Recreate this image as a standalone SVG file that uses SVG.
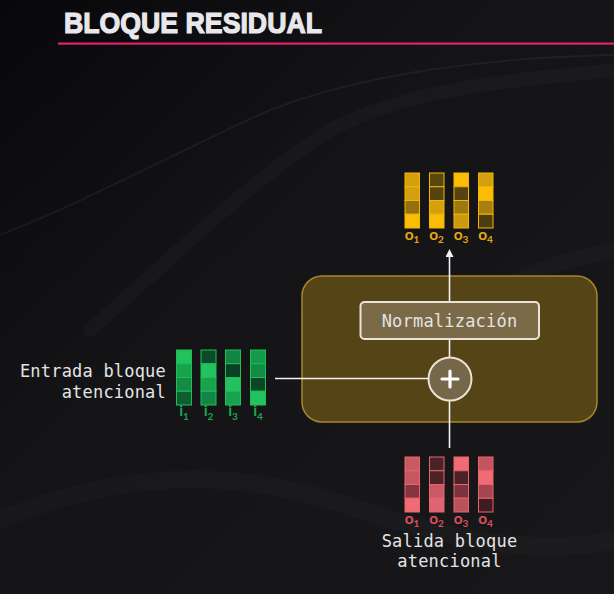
<svg xmlns="http://www.w3.org/2000/svg" width="614" height="594" viewBox="0 0 614 594">
<defs>
<linearGradient id="bg" x1="0" y1="0" x2="1" y2="1">
<stop offset="0" stop-color="#08080b"/>
<stop offset="0.4" stop-color="#141417"/>
<stop offset="1" stop-color="#18181b"/>
</linearGradient>
<marker id="arr" viewBox="0 0 6 6" refX="3" refY="3" markerWidth="5" markerHeight="5" orient="auto">
<path d="M0,0 L6,3 L0,6 z" fill="#f2f2f2"/>
</marker>
<style>
.lbl{font-family:"DejaVu Sans Mono","Liberation Mono",monospace;font-size:17px;fill:#e4e4e4;letter-spacing:0.2px}
.sub{font-family:"Lato","Liberation Sans",sans-serif;font-weight:bold}
.y rect{stroke:#f2b705;stroke-width:1}
.g rect{stroke:#1fbf58;stroke-width:1}
.r rect{stroke:#e9646d;stroke-width:1}
.wave{fill:none;stroke:#ffffff;stroke-linecap:round}
.conn{stroke:#f2f2f2;stroke-width:1.6;fill:none}
</style>
</defs>
<rect width="614" height="594" fill="url(#bg)"/>
<g id="background-waves">
<path class="wave" stroke-opacity="0.05" stroke-width="2" d="M0,235 C90,200 180,150 270,110 C360,75 480,58 614,55"/>
<path class="wave" stroke-opacity="0.025" stroke-width="14" d="M90,330 C170,260 250,180 330,130 C420,85 520,80 614,70"/>
<path class="wave" stroke-opacity="0.02" stroke-width="16" d="M470,310 C520,270 570,260 614,250"/>
<path class="wave" stroke-opacity="0.02" stroke-width="18" d="M0,520 C120,470 230,470 330,500 C420,530 520,560 614,540"/>
</g>
<g id="title">
<text x="64" y="33" font-family="Liberation Sans,Arial,sans-serif" font-weight="bold" font-size="30" fill="#e8e8ec" stroke="#e8e8ec" stroke-width="1.2" textLength="258" lengthAdjust="spacingAndGlyphs">BLOQUE RESIDUAL</text>
<rect x="58" y="42.5" width="556" height="2.2" fill="#e0226a"/>
</g>
<g id="residual-block">
<rect x="302" y="276" width="295" height="146" rx="20" fill="#574617" fill-opacity="0.97" stroke="#a8852c" stroke-width="1.5"/>
</g>
<g id="connectors">
<line class="conn" x1="449.5" y1="302" x2="449.5" y2="253" marker-end="url(#arr)"/>
<line class="conn" x1="449.5" y1="357" x2="449.5" y2="339"/>
<line class="conn" x1="449.5" y1="448" x2="449.5" y2="401"/>
<line class="conn" x1="275" y1="378.5" x2="428" y2="378.5"/>
</g>
<g id="normalizacion">
<rect x="360.5" y="302" width="178.5" height="37" rx="4" fill="#7a6a48" stroke="#ebe4d4" stroke-width="2"/>
<text x="449.5" y="326.5" text-anchor="middle" class="lbl" font-size="17" fill="#f4f0e8">Normalización</text>
</g>
<g id="suma">
<circle cx="450" cy="379" r="21.5" fill="#76674a" stroke="#ebe4d4" stroke-width="2"/>
<path d="M442,379 H458 M450,371 V387" stroke="#ffffff" stroke-width="3.2" stroke-linecap="round"/>
</g>
<g id="salida-vectores" class="y">
<g transform="translate(405,173)">
<rect y="0" width="14.5" height="13.75" fill="#d5a00e"/><rect y="13.75" width="14.5" height="13.75" fill="#d5a00e"/><rect y="27.5" width="14.5" height="13.75" fill="#94700f"/><rect y="41.25" width="14.5" height="13.75" fill="#fbbc05"/>
</g>
<g transform="translate(429.5,173)">
<rect y="0" width="14.5" height="13.75" fill="#5a460f"/><rect y="13.75" width="14.5" height="13.75" fill="#56430f"/><rect y="27.5" width="14.5" height="13.75" fill="#d5a00e"/><rect y="41.25" width="14.5" height="13.75" fill="#fbbc05"/>
</g>
<g transform="translate(454,173)">
<rect y="0" width="14.5" height="13.75" fill="#fbbc05"/><rect y="13.75" width="14.5" height="13.75" fill="#56430f"/><rect y="27.5" width="14.5" height="13.75" fill="#9c7812"/><rect y="41.25" width="14.5" height="13.75" fill="#c99a10"/>
</g>
<g transform="translate(478.5,173)">
<rect y="0" width="14.5" height="13.75" fill="#d2a010"/><rect y="13.75" width="14.5" height="13.75" fill="#fbbc05"/><rect y="27.5" width="14.5" height="13.75" fill="#a88012"/><rect y="41.25" width="14.5" height="13.75" fill="#4d3c10"/>
</g>
<g class="sub" fill="#e3a812" font-size="15.5">
<text x="412" y="240" text-anchor="middle">o<tspan font-size="10" dy="2.5">1</tspan></text>
<text x="436.5" y="240" text-anchor="middle">o<tspan font-size="10" dy="2.5">2</tspan></text>
<text x="461" y="240" text-anchor="middle">o<tspan font-size="10" dy="2.5">3</tspan></text>
<text x="485.5" y="240" text-anchor="middle">o<tspan font-size="10" dy="2.5">4</tspan></text>
</g>
</g>
<g id="entrada-vectores" class="g">
<g transform="translate(176.5,350)">
<rect y="0" width="15" height="13.75" fill="#22c35e"/><rect y="13.75" width="15" height="13.75" fill="#17a24e"/><rect y="27.5" width="15" height="13.75" fill="#138c46"/><rect y="41.25" width="15" height="13.75" fill="#0f5e32"/>
</g>
<g transform="translate(201,350)">
<rect y="0" width="15" height="13.75" fill="#0c4a28"/><rect y="13.75" width="15" height="13.75" fill="#22c35e"/><rect y="27.5" width="15" height="13.75" fill="#17a24e"/><rect y="41.25" width="15" height="13.75" fill="#128444"/>
</g>
<g transform="translate(225.5,350)">
<rect y="0" width="15" height="13.75" fill="#128444"/><rect y="13.75" width="15" height="13.75" fill="#0b4024"/><rect y="27.5" width="15" height="13.75" fill="#22c35e"/><rect y="41.25" width="15" height="13.75" fill="#17a24e"/>
</g>
<g transform="translate(250.5,350)">
<rect y="0" width="15" height="13.75" fill="#159a4a"/><rect y="13.75" width="15" height="13.75" fill="#138a45"/><rect y="27.5" width="15" height="13.75" fill="#0c4426"/><rect y="41.25" width="15" height="13.75" fill="#22c35e"/>
</g>
<g class="sub" fill="#1aa650" font-size="15.5">
<text x="184" y="416" text-anchor="middle">i<tspan font-size="10" dy="3.5">1</tspan></text>
<text x="208.5" y="416" text-anchor="middle">i<tspan font-size="10" dy="3.5">2</tspan></text>
<text x="233" y="416" text-anchor="middle">i<tspan font-size="10" dy="3.5">3</tspan></text>
<text x="258" y="416" text-anchor="middle">i<tspan font-size="10" dy="3.5">4</tspan></text>
</g>
</g>
<g id="salida-atencional-vectores" class="r">
<g transform="translate(405,457)">
<rect y="0" width="14.5" height="13.75" fill="#c95a64"/><rect y="13.75" width="14.5" height="13.75" fill="#c45862"/><rect y="27.5" width="14.5" height="13.75" fill="#823540"/><rect y="41.25" width="14.5" height="13.75" fill="#f06b74"/>
</g>
<g transform="translate(429.5,457)">
<rect y="0" width="14.5" height="13.75" fill="#4a2328"/><rect y="13.75" width="14.5" height="13.75" fill="#4a2328"/><rect y="27.5" width="14.5" height="13.75" fill="#c95a64"/><rect y="41.25" width="14.5" height="13.75" fill="#dd6470"/>
</g>
<g transform="translate(454,457)">
<rect y="0" width="14.5" height="13.75" fill="#f06b74"/><rect y="13.75" width="14.5" height="13.75" fill="#4a2328"/><rect y="27.5" width="14.5" height="13.75" fill="#7e3440"/><rect y="41.25" width="14.5" height="13.75" fill="#b9525c"/>
</g>
<g transform="translate(478.5,457)">
<rect y="0" width="14.5" height="13.75" fill="#c05560"/><rect y="13.75" width="14.5" height="13.75" fill="#f06b74"/><rect y="27.5" width="14.5" height="13.75" fill="#a34650"/><rect y="41.25" width="14.5" height="13.75" fill="#3e1c20"/>
</g>
<g class="sub" fill="#d8505c" font-size="15.5">
<text x="412" y="524" text-anchor="middle">o<tspan font-size="10" dy="2.5">1</tspan></text>
<text x="436.5" y="524" text-anchor="middle">o<tspan font-size="10" dy="2.5">2</tspan></text>
<text x="461" y="524" text-anchor="middle">o<tspan font-size="10" dy="2.5">3</tspan></text>
<text x="485.5" y="524" text-anchor="middle">o<tspan font-size="10" dy="2.5">4</tspan></text>
</g>
</g>
<g id="label-entrada">
<text class="lbl" x="166" y="377" text-anchor="end">Entrada bloque</text>
<text class="lbl" x="166" y="398" text-anchor="end">atencional</text>
</g>
<g id="label-salida">
<text class="lbl" x="449.5" y="547" text-anchor="middle">Salida bloque</text>
<text class="lbl" x="449.5" y="567" text-anchor="middle">atencional</text>
</g>
</svg>
